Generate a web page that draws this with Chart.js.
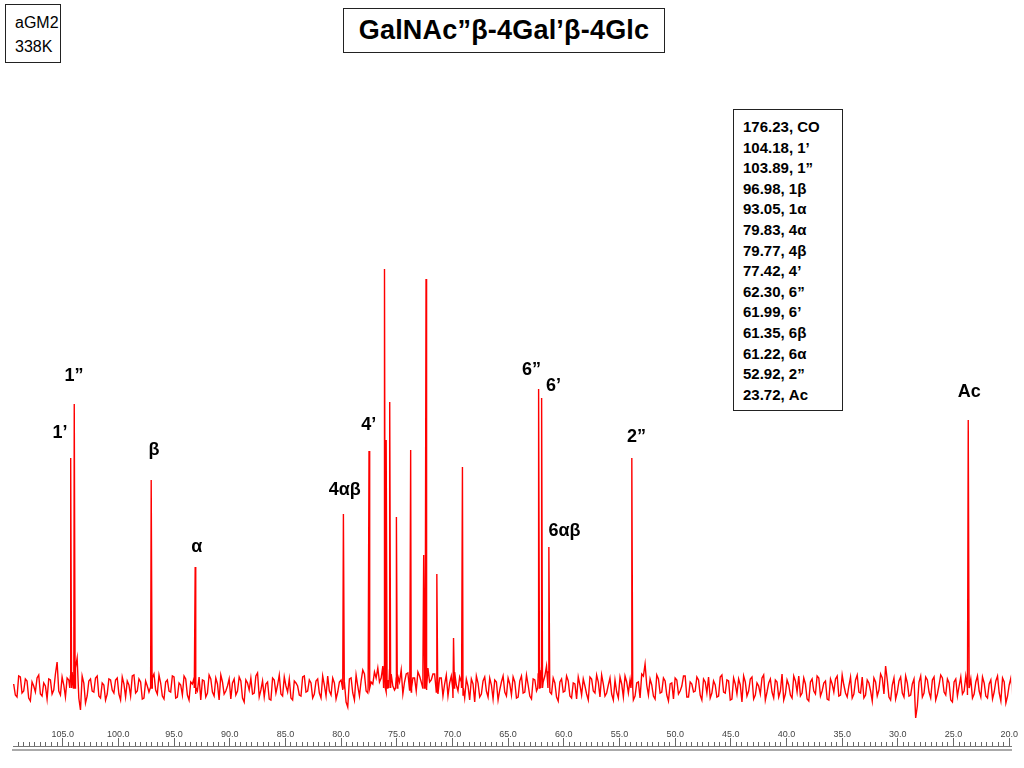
<!DOCTYPE html>
<html>
<head>
<meta charset="utf-8">
<title>aGM2 13C spectrum</title>
<script src="https://cdn.jsdelivr.net/npm/chart.js@4.4.1/dist/chart.umd.min.js"></script>
<style>
  body { margin: 0; background: #fff; font-family: "Liberation Sans", Arial, sans-serif; }
  #wrap { position: relative; width: 1024px; height: 768px; overflow: hidden; }
  #spectrum { position: absolute; left: 0; top: 0; }
  .box { position: absolute; border: 1px solid #222; background: #fff; color: #000; box-sizing: border-box; }
  #sample { left: 5px; top: 4px; width: 56px; height: 59px; font-size: 16px; line-height: 24px; padding: 6px 0 0 9px; }
  #title { left: 343px; top: 8px; width: 322px; height: 45px; font-size: 27px; font-weight: bold; text-align: center; line-height: 43px; letter-spacing: 0.2px; }
  #shifts { left: 733px; top: 109px; width: 110px; height: 302px; font-size: 15px; font-weight: bold; line-height: 20.6px; padding: 7px 0 0 9px; }
</style>
</head>
<body>
<div id="wrap">
  <canvas id="spectrum" width="1024" height="768"></canvas>
  <div class="box" id="sample">aGM2<br>338K</div>
  <div class="box" id="title">GalNAc”β-4Gal’β-4Glc</div>
  <div class="box" id="shifts"></div>
</div>
<script>
// assignment table shown in the box (ppm, carbon)
const shiftValues = ['176.23', '104.18', '103.89', '96.98', '93.05', '79.83', '79.77', '77.42', '62.30', '61.99', '61.35', '61.22', '52.92', '23.72'];
const shiftNames = ['CO', '1’', '1”', '1β', '1α', '4α', '4β', '4’', '6”', '6’', '6β', '6α', '2”', 'Ac'];

// peaks (ppm, height above baseline)
const peakPpm = [104.28, 103.96, 97.05, 93.10, 79.79, 77.49, 76.10, 75.95, 75.63, 75.03, 73.75, 72.58, 72.37, 71.40, 69.90, 69.10, 62.26, 61.99, 61.34, 53.89, 23.68];
const peakHeight = [230, 284, 208, 121, 174, 237, 419, 248, 286, 171, 238, 133, 409, 114, 50, 221, 299, 290, 141, 230, 268];

// baseline noise readings, every 0.3 ppm; second set sits half a step further upfield
const noiseStart = 109.4;
const noiseStep = 0.3;
const noiseA = [
  4, -9, 11, -3, 7, -13, 2, 10, -6, 5, -11, 8, -2, 26, -7, 3, 10, 12, 14, 30, -22, 5, -8, 9, -4, 12, -10, 3, -6, 8,
  -5, 10, -12, 4, 7, -8, 13, -3, 6, -10, 2, 9, 14, -6, 5, -11, 8, -4, 11, -9, 3, 12, -7, 6, 10, -3, -12, 7, -5, 9,
  -8, 4, 13, -6, 2, -11, 9, -3, 7, -14, 5, 10, -5, 15, -2, -9, 6, -12, 8, 3, -6, 11, -4, -10, 7, 2, -8, 12, -3, 5,
  -6, 9, -10, 3, 12, -7, 5, -4, 8, 6, -19, 10, -12, 2, 7, 14, -5, 6, 16, 20, 10, 24, 8, 14, -2, 12, 18, 6, 15, -4,
  10, 16, 6, 12, 20, 8, 14, -6, 10, 4, -8, 12, 16, -3, 6, -10, 2, 9, -14, 5, -6, 11, -9, 3, 8, -12, 6, -4, 10, -7,
  6, -9, 12, -4, 3, -11, 8, 14, 20, 12, 16, -6, 5, -13, 9, -3, 7, -10, 4, 11, -7, 2, -12, 9, -5, 6, 13, -8, 3, -6,
  8, -10, 4, 12, -5, 10, -8, 6, 14, 24, -7, 3, -11, 9, -4, 7, -13, 5, 10, -6, 2, 12, -9, 4, -3, 8, -12, 6, 11, -5,
  3, -8, 13, -5, 7, -11, 4, 9, -14, 6, -3, 11, -7, 2, 10, -12, 5, -4, 8, -9, 14, -6, 3, -10, 7, 12, -5, 4, -13, 9,
  -6, 10, -3, 7, -12, 4, 9, -8, 13, -5, 2, -10, 8, -4, 11, -7, 5, -13, 6, -2, 10, 22, -9, 3, -11, 7, -5, 12, -8, 4,
  -30, 6, -9, 11, -4, 8, -12, 3, 10, -7, 5, -14, 9, 2, -6, 12, 8, -10, 6, -3, 11, -8, 4, -11, 7, -5, 10, -15, 3, -6
];
const noiseB = [
  -7, 12, -5, 9, -10, 6, -4, 13, -8, 2, 9, -6, 14, -3, 11, -9, 8, 16, 20, -10, 12, -15, 7, -3, 10, -8, 5, -12, 9, -2,
  8, -6, 11, -9, 3, 12, -5, 9, -11, 7, -4, 10, -2, 13, -8, 6, -3, 12, -10, 5, -7, 9, -12, 4, -6, 11, 8, -9, 13, -4,
  10, -12, 6, -3, 9, 5, -7, 11, -10, 8, -2, -6, 12, -9, 7, 4, -11, 10, -5, 13, -8, 2, 9, -12, 5, -7, 11, -4, 8, -10,
  7, -5, 12, -8, -3, 10, -11, 6, -2, -14, 9, -5, 13, -8, 18, -3, 12, 4, 10, 6, 22, -4, 18, 2, 10, 6, -6, 14, -2, 10,
  -3, 12, 18, -2, 6, 14, -4, 10, -8, 13, 5, -10, 3, 11, -7, 9, -12, 4, 12, -9, 7, -3, 10, -11, 6, -2, 12, -8, 4, 11,
  -10, 7, -5, 13, -8, 9, -3, 18, 6, 22, -4, 10, -9, 6, -4, 12, -8, 5, -11, 3, 9, -6, 11, -3, 13, -9, 4, -5, 10, -12,
  -4, 11, -9, 6, 8, -12, 5, -10, 12, 3, 9, -8, 13, -5, 10, -7, 4, -11, 8, -3, 12, -9, 6, -4, 11, -7, 9, -5, -10, 7,
  -9, 11, -4, 8, -12, 10, -6, 3, 12, -8, 9, -11, 5, -6, 13, -4, 9, -10, 6, -3, -12, 8, -7, 12, -4, -8, 10, -11, 6, -3,
  12, -8, 5, -11, 9, -4, 12, -7, 3, -9, 11, -6, 13, -5, -10, 8, -3, 10, -8, 14, -6, 8, -12, 10, -4, 11, -9, 5, -7, 9,
  -18, 12, -5, 8, -10, 11, -6, 13, -4, 9, -12, 6, -8, 11, -3, -7, 9, -6, 12, -9, 5, -10, 8, -4, 12, -13, 6, -8, 10, -3
];

// peak labels: text, ppm of label centre, height of label centre
const labelText = ['1”', '1’', 'β', 'α', '4αβ', '4’', '6”', '6’', '6αβ', '2”', 'Ac'];
const labelPpm = [103.99, 105.24, 96.81, 92.95, 79.67, 77.52, 62.89, 60.92, 59.93, 53.47, 23.59];
const labelLevel = [312, 255, 238, 141, 198, 263, 318, 302, 157, 251, 296];

// axis range (ppm) and tick steps
const ppmLeft = 109.46;
const ppmRight = 19.82;
const majorStep = 5;
const minorStep = 0.5;

document.getElementById('shifts').innerHTML = shiftValues.map((v, i) => v + ', ' + shiftNames[i]).join('<br>');

// merge noise readings and peak sticks into one trace
const trace = [];
noiseA.forEach((v, i) => trace.push({ x: +(noiseStart - i * noiseStep).toFixed(2), y: v }));
noiseB.forEach((v, i) => trace.push({ x: +(noiseStart - noiseStep / 2 - i * noiseStep).toFixed(2), y: v }));
peakPpm.forEach((p, i) => {
  trace.push({ x: p + 0.08, y: 0 });
  trace.push({ x: p, y: peakHeight[i] });
  trace.push({ x: p - 0.08, y: 0 });
});
trace.sort((a, b) => b.x - a.x);

const peakLabels = {
  id: 'peakLabels',
  afterDatasetsDraw(chart) {
    const ctx = chart.ctx;
    const xs = chart.scales.x;
    const ys = chart.scales.y;
    ctx.save();
    ctx.fillStyle = '#000';
    ctx.font = 'bold 18px "Liberation Sans", Arial, sans-serif';
    ctx.textAlign = 'center';
    ctx.textBaseline = 'middle';
    labelText.forEach((t, i) => {
      ctx.fillText(t, xs.getPixelForValue(labelPpm[i]), ys.getPixelForValue(labelLevel[i]));
    });
    ctx.restore();
  }
};

const axisBase = {
  type: 'linear',
  position: 'bottom',
  reverse: true,
  min: ppmRight,
  max: ppmLeft,
  offset: false
};

new Chart(document.getElementById('spectrum'), {
  type: 'line',
  data: {
    datasets: [{
      data: trace,
      borderColor: 'rgb(255, 0, 0)',
      borderWidth: 1.4,
      pointRadius: 0,
      tension: 0
    }]
  },
  options: {
    responsive: false,
    animation: false,
    devicePixelRatio: 1,
    layout: { padding: { left: 13, right: 12, top: 70, bottom: 18 } },
    plugins: { legend: { display: false }, tooltip: { enabled: false } },
    scales: {
      y: { display: false, min: -58, max: 618 },
      // minor ticks, 0.5 ppm
      x: Object.assign({}, axisBase, {
        weight: 0,
        ticks: { stepSize: minorStep, includeBounds: false, autoSkip: false, maxRotation: 0, mirror: true, padding: 2, callback: () => '' },
        grid: { drawOnChartArea: false, tickLength: -4, tickColor: '#666', tickWidth: 1 },
        border: { display: true, color: '#777', width: 1 }
      }),
      // major ticks with labels, 5 ppm
      xMajor: Object.assign({}, axisBase, {
        weight: 1,
        ticks: {
          stepSize: majorStep, includeBounds: false, autoSkip: false, maxRotation: 0, mirror: true, padding: 6,
          color: '#444', font: { size: 9, family: '"Liberation Sans", Arial, sans-serif' },
          callback: (v) => Number(v).toFixed(1)
        },
        grid: { drawOnChartArea: false, tickLength: -8, tickColor: '#666', tickWidth: 1 },
        border: { display: false }
      }),
      // lower rule of the double axis line
      xRule: Object.assign({}, axisBase, {
        weight: 2,
        ticks: { display: false },
        grid: { display: false, drawTicks: false },
        border: { display: true, color: '#aaa', width: 2 }
      })
    }
  },
  plugins: [peakLabels]
});
</script>
</body>
</html>
